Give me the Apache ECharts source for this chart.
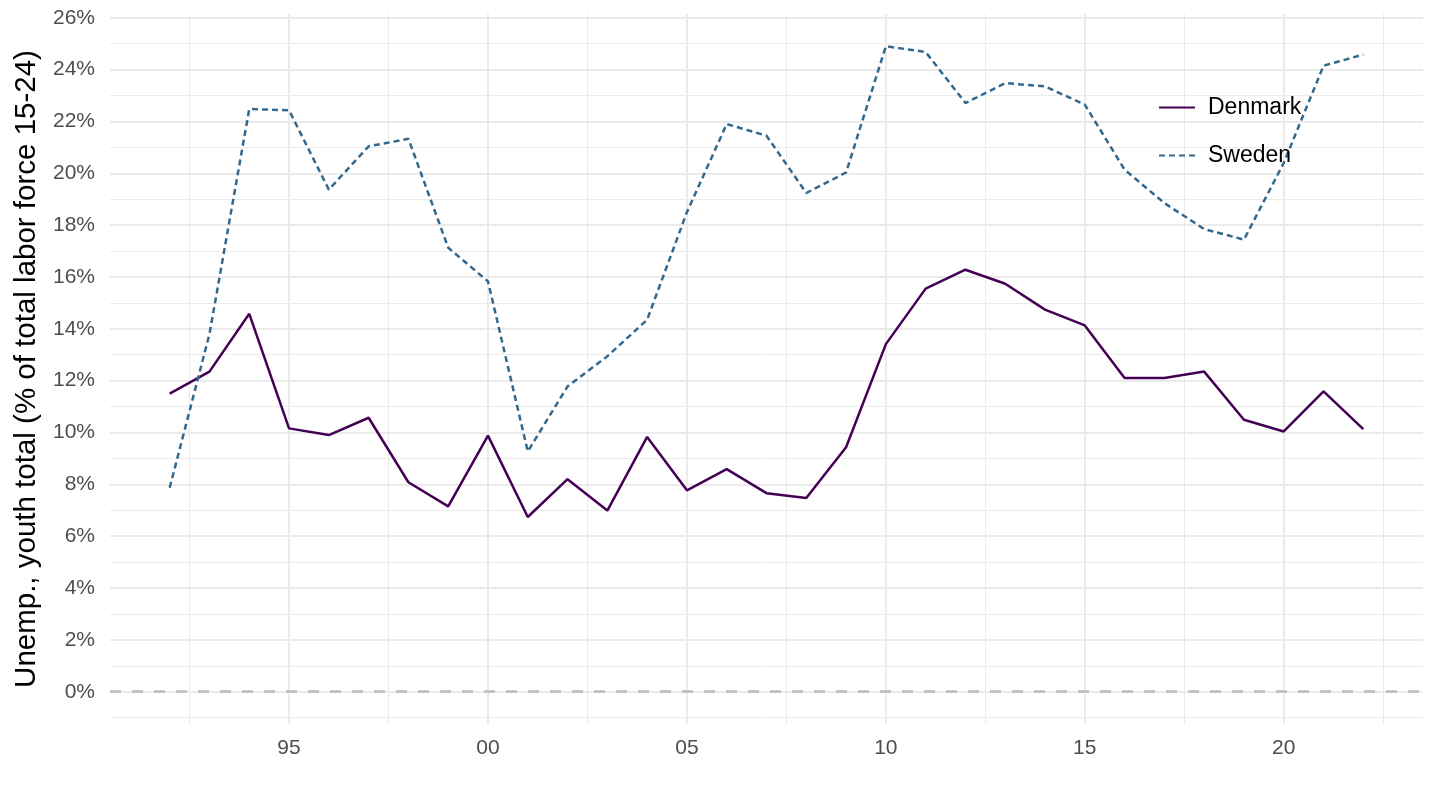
<!DOCTYPE html>
<html><head><meta charset="utf-8">
<script src="https://cdn.jsdelivr.net/npm/echarts@6/dist/echarts.min.js"></script>
<style>html,body{margin:0;padding:0;background:#fff}#c{width:1440px;height:810px}</style>
</head><body><div id="c"></div>
<script>
const years = [1992,1993,1994,1995,1996,1997,1998,1999,2000,2001,2002,2003,2004,2005,2006,2007,2008,2009,2010,2011,2012,2013,2014,2015,2016,2017,2018,2019,2020,2021,2022];
const denmark = [11.5,12.35,14.58,10.16,9.9,10.57,8.08,7.15,9.88,6.74,8.2,6.99,9.83,7.77,8.59,7.66,7.47,9.43,13.41,15.55,16.28,15.74,14.74,14.13,12.1,12.1,12.35,10.49,10.04,11.59,10.13];
const sweden = [7.87,13.8,22.48,22.43,19.37,21.04,21.33,17.13,15.83,9.27,11.78,12.94,14.35,18.5,21.9,21.45,19.24,20.03,24.9,24.68,22.71,23.48,23.35,22.65,20.14,18.85,17.85,17.44,20.4,24.15,24.58];
const seriesNames = ['Denmark','Sweden'];
const xMajorTicks = [1995,2000,2005,2010,2015,2020];
const xMinorTicks = [1992.5,1997.5,2002.5,2007.5,2012.5,2017.5,2022.5];
const yMajorTicks = [0,2,4,6,8,10,12,14,16,18,20,22,24,26];
const yMinorTicks = [-1,1,3,5,7,9,11,13,15,17,19,21,23,25];
const yTitle = 'Unemp., youth total (% of total labor force 15-24)';

const FONT = "'Liberation Sans', Arial, Helvetica, sans-serif";
const xMin = 1990.5, xMax = 2023.5, yMin = -1.245, yMax = 26.145;
const GRID = '#EBEBEB';

const chart = echarts.init(document.getElementById('c'), null, {renderer:'canvas'});
const option = {
  animation: false,
  backgroundColor: '#fff',
  textStyle: {fontFamily: FONT},
  grid: {left: 110, right: 17, top: 14, bottom: 86, containLabel: false},
  legend: {
    orient: 'vertical', left: 1153, top: 91,
    itemWidth: 36, itemHeight: 22, itemGap: 25,
    data: seriesNames,
    itemStyle: {opacity: 0},
    textStyle: {fontSize: 23, color: '#000', fontFamily: FONT, padding: [0,0,0,8]}
  },
  xAxis: [
    {type:'value', min:xMin, max:xMax, gridIndex:0, position:'bottom',
     axisLine:{show:false},
     axisTick:{show:false, customValues:xMajorTicks},
     axisLabel:{customValues:xMajorTicks, fontSize:21, color:'#4D4D4D', margin:14, fontFamily:FONT,
       formatter: v => String(Math.round(v)).slice(2)},
     splitLine:{show:true, lineStyle:{color:GRID, width:2}}},
    {type:'value', min:xMin, max:xMax, gridIndex:0, position:'top',
     axisLine:{show:false},
     axisTick:{show:false, customValues:xMinorTicks},
     axisLabel:{show:false, customValues:xMinorTicks},
     splitLine:{show:true, lineStyle:{color:GRID, width:1}}}
  ],
  yAxis: [
    {type:'value', min:yMin, max:yMax, gridIndex:0, position:'left',
     name: yTitle, nameLocation:'middle', nameGap:67,
     nameTextStyle:{fontSize:29.5, color:'#000', fontFamily:FONT},
     axisLine:{show:false},
     axisTick:{show:false, customValues:yMajorTicks},
     axisLabel:{customValues:yMajorTicks, fontSize:21, color:'#4D4D4D', margin:15, fontFamily:FONT,
       formatter: v => Math.round(v) + '%'},
     splitLine:{show:true, lineStyle:{color:GRID, width:2}}},
    {type:'value', min:yMin, max:yMax, gridIndex:0, position:'right',
     axisLine:{show:false},
     axisTick:{show:false, customValues:yMinorTicks},
     axisLabel:{show:false, customValues:yMinorTicks},
     splitLine:{show:true, lineStyle:{color:GRID, width:1}}}
  ],
  series: [
    {name: seriesNames[0], type:'line', xAxisIndex:0, yAxisIndex:0,
     data: years.map((y,i)=>[y, denmark[i]]),
     symbol:'none', showSymbol:false,
     lineStyle:{color:'#440154', width:2.5, type:'solid'},
     itemStyle:{color:'#440154'},
     markLine:{silent:true, symbol:['none','none'], label:{show:false},
       lineStyle:{color:'#BEBEBE', width:2.6, type:[11,11]},
       data:[{yAxis:0}]},
     z:3},
    {name: seriesNames[1], type:'line', xAxisIndex:0, yAxisIndex:0,
     data: years.map((y,i)=>[y, sweden[i]]),
     symbol:'none', showSymbol:false,
     lineStyle:{color:'#31688E', width:2.5, type:[6,4]},
     itemStyle:{color:'#31688E'},
     z:3}
  ]
};
chart.setOption(option);
</script>
</body></html>
